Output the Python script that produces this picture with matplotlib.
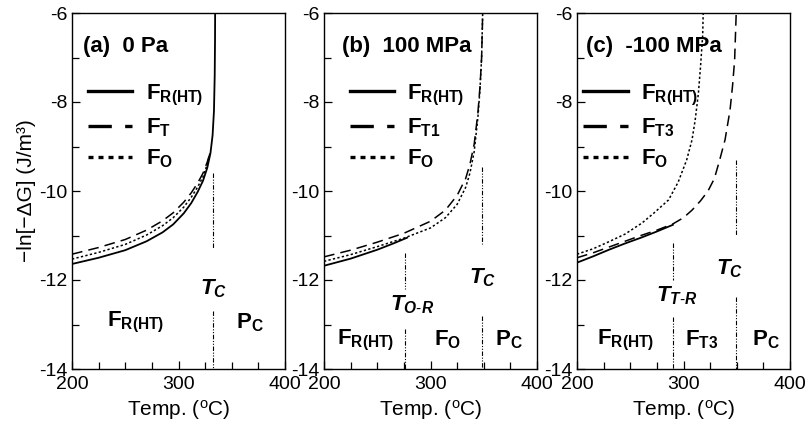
import matplotlib
matplotlib.use('Agg')
import matplotlib.pyplot as plt
from matplotlib.ticker import MultipleLocator

plt.rcParams['font.family'] = ['Liberation Sans', 'DejaVu Sans']
plt.rcParams['mathtext.fontset'] = 'custom'
plt.rcParams['mathtext.rm'] = 'Liberation Sans'
plt.rcParams['mathtext.bf'] = 'Liberation Sans:bold'
plt.rcParams['mathtext.it'] = 'Liberation Sans:italic'
plt.rcParams['mathtext.bfit'] = 'Liberation Sans:italic:bold'
plt.rcParams['axes.unicode_minus'] = False

# ---- (a) 0 Pa ----
a_T_R = [200, 225, 250, 270, 285, 295, 305, 312, 318, 323, 327, 330, 332, 333.3, 334, 334.3, 334.4]
a_v_R = [-11.64, -11.5, -11.33, -11.13, -10.93, -10.75, -10.5, -10.27, -10.02, -9.77, -9.48, -9.15, -8.75, -8.2, -7.4, -6.6, -6.0]
a_T_T = [200, 225, 250, 270, 285, 295, 305, 312, 318, 323, 327, 329.5]
a_v_T = [-11.42, -11.27, -11.09, -10.88, -10.67, -10.49, -10.25, -10.04, -9.82, -9.6, -9.35, -9.15]
a_T_O = [200, 225, 250, 270, 285, 295, 305, 312, 318, 323, 327, 329.5]
a_v_O = [-11.53, -11.38, -11.2, -10.99, -10.78, -10.6, -10.36, -10.14, -9.91, -9.68, -9.4, -9.15]
a_Tc = 332

# ---- (b) 100 MPa ----
b_T_R = [200, 225, 250, 265, 278]
b_v_R = [-11.68, -11.52, -11.32, -11.18, -11.05]
b_T_T = [200, 225, 250, 275, 300, 314, 325, 333, 337, 341, 344.5, 346.5, 348, 349]
b_v_T = [-11.48, -11.33, -11.15, -10.95, -10.68, -10.43, -10.1, -9.72, -9.4, -8.95, -8.25, -7.65, -7.0, -6.0]
b_T_O = [200, 225, 250, 275, 300, 314, 325, 333, 337, 341, 344.5, 346.5, 348, 349]
b_v_O = [-11.58, -11.43, -11.25, -11.06, -10.83, -10.6, -10.3, -9.92, -9.6, -9.12, -8.35, -7.7, -7.0, -6.0]
b_Tor = 276
b_Tc = 348.5

# ---- (c) -100 MPa ----
c_T_R = [200, 215, 230, 245, 260, 275, 290]
c_v_R = [-11.61, -11.47, -11.32, -11.18, -11.05, -10.91, -10.76]
c_T_T = [200, 215, 230, 245, 260, 275, 290, 300, 308, 316, 323, 329, 334, 339, 343.7, 346, 348, 349.5]
c_v_T = [-11.5, -11.39, -11.26, -11.13, -11.0, -10.88, -10.74, -10.6, -10.43, -10.22, -10.0, -9.72, -9.3, -8.85, -8.18, -7.65, -7.06, -6.0]
c_T_O = [200, 215, 229, 245, 261, 272, 286, 295, 303, 308, 311, 314, 316, 318, 318.5]
c_v_O = [-11.42, -11.3, -11.15, -10.97, -10.72, -10.5, -10.2, -9.8, -9.3, -8.85, -8.4, -7.8, -7.2, -6.5, -6.0]
c_Ttr = 290
c_Tc = 349

DASHDOTDOT = (0, (4, 1.5, 1, 1.5, 1, 1.5))
FS_TICK = 14
FS_LAB = 15
FS_BOLD = 16


def draw_boundary(ax, T, segments):
    for lo, hi in segments:
        ax.plot([T, T], [lo, hi], color='black', lw=0.8, ls=DASHDOTDOT)


def setup_axes(ax, ylabel=False):
    ax.set_xlim(200, 400)
    ax.set_ylim(-14, -6)
    ax.xaxis.set_major_locator(MultipleLocator(100))
    ax.xaxis.set_minor_locator(MultipleLocator(25))
    ax.yaxis.set_major_locator(MultipleLocator(2))
    ax.yaxis.set_minor_locator(MultipleLocator(1))
    ax.tick_params(which='both', direction='in', labelsize=FS_TICK, width=0.9)
    ax.tick_params(which='major', length=6)
    ax.tick_params(which='minor', length=5)
    ax.tick_params(axis='x', pad=5)
    for s in ax.spines.values():
        s.set_linewidth(1.0)
    ax.set_xlabel(r'Temp. ($^{\rm o}$C)', fontsize=FS_LAB, labelpad=4)
    if ylabel:
        ax.set_ylabel('\u2212ln[\u2212\u0394G] (J/m\u00b3)', fontsize=FS_LAB, labelpad=2)


def draw_curves(ax, TR, vR, TT, vT, TO, vO, labels, legend_x):
    l1, = ax.plot(TR, vR, color='black', lw=1.3, ls='-')
    l2, = ax.plot(TT, vT, color='black', lw=1.1, ls=(0, (7, 4)))
    l3, = ax.plot(TO, vO, color='black', lw=1.1, ls=(0, (1.5, 1.5)))
    leg = ax.legend([l1, l2, l3], labels, loc='upper left', bbox_to_anchor=(legend_x, 0.805),
                    frameon=False, fontsize=FS_BOLD, handlelength=2.0, handletextpad=0.6,
                    labelspacing=0.4, borderaxespad=0, borderpad=0)
    for h in leg.legend_handles:
        h.set_linewidth(2.4)


fig = plt.figure(figsize=(8.11, 4.43), dpi=100)
W, H = 811, 443
lefts = [72, 324, 577]
axes = [fig.add_axes([l / W, 74 / H, 213 / W, 356 / H]) for l in lefts]

# (a)
ax = axes[0]
setup_axes(ax, ylabel=True)
draw_curves(ax, a_T_R, a_v_R, a_T_T, a_v_T, a_T_O, a_v_O,
            [r'$\mathbf{F_{R(HT)}}$', r'$\mathbf{F_T}$', r'$\mathbf{F_O}$'], 0.075)
draw_boundary(ax, a_Tc, [(-9.6, -11.3), (-12.7, -14)])
ax.text(210, -6.75, '(a)  0 Pa', fontsize=FS_BOLD, fontweight='bold', va='center')
ax.text(333, -12.2, r'$\mathbfit{T_C}$', fontsize=FS_BOLD, ha='center', va='center')
ax.text(260, -12.95, r'$\mathbf{F_{R(HT)}}$', fontsize=FS_BOLD, ha='center', va='center')
ax.text(367, -12.95, r'$\mathbf{P_C}$', fontsize=FS_BOLD, ha='center', va='center')

# (b)
ax = axes[1]
setup_axes(ax)
draw_curves(ax, b_T_R, b_v_R, b_T_T, b_v_T, b_T_O, b_v_O,
            [r'$\mathbf{F_{R(HT)}}$', r'$\mathbf{F_{T1}}$', r'$\mathbf{F_O}$'], 0.12)
draw_boundary(ax, b_Tor, [(-11.4, -12.2), (-13.1, -14)])
draw_boundary(ax, b_Tc, [(-9.45, -11.2), (-12.8, -14)])
ax.text(217, -6.75, '(b)  100 MPa', fontsize=FS_BOLD, fontweight='bold', va='center')
ax.text(283, -12.55, r'$\mathbfit{T_{O\text{-}R}}$', fontsize=FS_BOLD, ha='center', va='center')
ax.text(349, -11.95, r'$\mathbfit{T_C}$', fontsize=FS_BOLD, ha='center', va='center')
ax.text(239, -13.35, r'$\mathbf{F_{R(HT)}}$', fontsize=FS_BOLD, ha='center', va='center')
ax.text(316, -13.35, r'$\mathbf{F_O}$', fontsize=FS_BOLD, ha='center', va='center')
ax.text(374, -13.35, r'$\mathbf{P_C}$', fontsize=FS_BOLD, ha='center', va='center')

# (c)
ax = axes[2]
setup_axes(ax)
draw_curves(ax, c_T_R, c_v_R, c_T_T, c_v_T, c_T_O, c_v_O,
            [r'$\mathbf{F_{R(HT)}}$', r'$\mathbf{F_{T3}}$', r'$\mathbf{F_O}$'], 0.03)
draw_boundary(ax, c_Ttr, [(-11.17, -12.0), (-12.83, -14)])
draw_boundary(ax, c_Tc, [(-9.3, -11.0), (-12.38, -14)])
ax.text(208, -6.75, '(c)  -100 MPa', fontsize=FS_BOLD, fontweight='bold', va='center')
ax.text(294, -12.35, r'$\mathbfit{T_{T\text{-}R}}$', fontsize=FS_BOLD, ha='center', va='center')
ax.text(343, -11.75, r'$\mathbfit{T_C}$', fontsize=FS_BOLD, ha='center', va='center')
ax.text(246, -13.35, r'$\mathbf{F_{R(HT)}}$', fontsize=FS_BOLD, ha='center', va='center')
ax.text(317, -13.35, r'$\mathbf{F_{T3}}$', fontsize=FS_BOLD, ha='center', va='center')
ax.text(377, -13.35, r'$\mathbf{P_C}$', fontsize=FS_BOLD, ha='center', va='center')

fig.savefig('out.png', dpi=100)
